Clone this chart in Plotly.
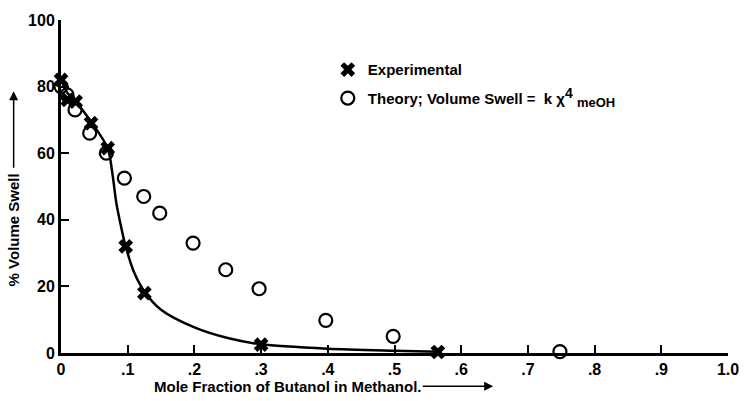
import plotly.graph_objects as go

# Measured swelling (experimental points)
exp_x = [0.0, 0.01, 0.022, 0.045, 0.07, 0.097, 0.125, 0.30, 0.565]
exp_y = [82, 76, 75.5, 69, 61.5, 32, 18, 2.5, 0.3]

# Theory: Volume Swell = k * x_meOH^4
theo_x = [0.0, 0.009, 0.021, 0.043, 0.068, 0.095, 0.124, 0.148, 0.198, 0.247, 0.297, 0.397, 0.498, 0.748]
theo_y = [80, 77.5, 73, 66, 60, 52.5, 47, 42, 33, 25, 19.3, 9.8, 5, 0.4]

# Smooth curve drawn through the experimental data
fit_x = [0.0, 0.01, 0.022, 0.045, 0.07, 0.077, 0.083, 0.09, 0.097, 0.11, 0.125, 0.15, 0.2, 0.25, 0.3, 0.4, 0.5, 0.565]
fit_y = [82, 78, 75.5, 69.5, 61.5, 54, 45, 38, 32, 24, 18.5, 13, 7.7, 4.5, 2.6, 1.3, 0.7, 0.4]

x_ticks = [0, 0.1, 0.2, 0.3, 0.4, 0.5, 0.6, 0.7, 0.8, 0.9, 1.0]
x_labels = ["0", ".1", ".2", ".3", ".4", ".5", ".6", ".7", ".8", ".9", "1.0"]
y_ticks = [0, 20, 40, 60, 80, 100]
y_labels = ["0", "20", "40", "60", "80", "100"]

FONT = "Liberation Sans"
BOLD = dict(family=FONT, color="black", weight="bold")
NB = "\u00a0"

theory_label = (
    "Theory; Volume Swell =" + NB + NB + "k" + NB + "\u03c7"
    + "<sup><span style='font-size:14px'>4</span></sup>"
    + NB + "<sub><span style='font-size:13px'>meOH</span></sub>"
)

fig = go.Figure()
fig.add_trace(go.Scatter(
    x=fit_x, y=fit_y, mode="lines", line=dict(color="black", width=2.5, shape="spline", smoothing=0.8),
    showlegend=False, hoverinfo="skip", cliponaxis=False,
))
fig.add_trace(go.Scatter(
    x=exp_x, y=exp_y, mode="markers", name="Experimental", legendgroup="a",
    marker=dict(symbol="x", size=13, color="black", line=dict(width=0)),
    cliponaxis=False,
))
fig.add_trace(go.Scatter(
    x=theo_x, y=theo_y, mode="markers", legendgroup="b", name=theory_label,
    marker=dict(symbol="circle-open", size=13, color="black", line=dict(width=2.2)),
    cliponaxis=False,
))

axis_common = dict(
    showgrid=False, zeroline=False, showline=True, linecolor="black", linewidth=3,
    ticks="inside", tickcolor="black", tickwidth=2, ticklen=8,
    tickfont=dict(size=16, **BOLD),
)
fig.update_xaxes(range=[0, 1.0], tickvals=x_ticks, ticktext=x_labels, **axis_common)
fig.update_yaxes(range=[0, 100], tickvals=y_ticks, ticktext=y_labels, **axis_common)

fig.update_layout(
    width=751, height=401,
    margin=dict(l=61, r=13, t=16, b=48),
    paper_bgcolor="white", plot_bgcolor="white",
    font=dict(size=15, **BOLD),
    legend=dict(
        x=0.40, y=0.90, xanchor="left", yanchor="top",
        bgcolor="rgba(0,0,0,0)", tracegroupgap=6,
        font=dict(size=15, **BOLD),
    ),
    annotations=[
        # x-axis title and its arrow
        dict(text="Mole Fraction of Butanol in Methanol.",
             xref="paper", yref="paper", x=0.136, y=-0.1, xanchor="left", yanchor="middle",
             showarrow=False, font=dict(size=15, **BOLD)),
        dict(text="", xref="paper", yref="paper", x=0.648, y=-0.1,
             ax=-72, ay=0, showarrow=True, arrowhead=2, arrowsize=1.2, arrowwidth=1.5,
             arrowcolor="black"),
        # y-axis title and its arrow
        dict(text="% Volume Swell",
             xref="paper", yref="paper", x=-0.071, y=0.37, xanchor="center", yanchor="middle",
             textangle=-90, showarrow=False, font=dict(size=15, **BOLD)),
        dict(text="", xref="paper", yref="paper", x=-0.071, y=0.786,
             ax=0, ay=78, showarrow=True, arrowhead=2, arrowsize=1.2, arrowwidth=1.5,
             arrowcolor="black"),
    ],
)

fig.write_html("out.html")
